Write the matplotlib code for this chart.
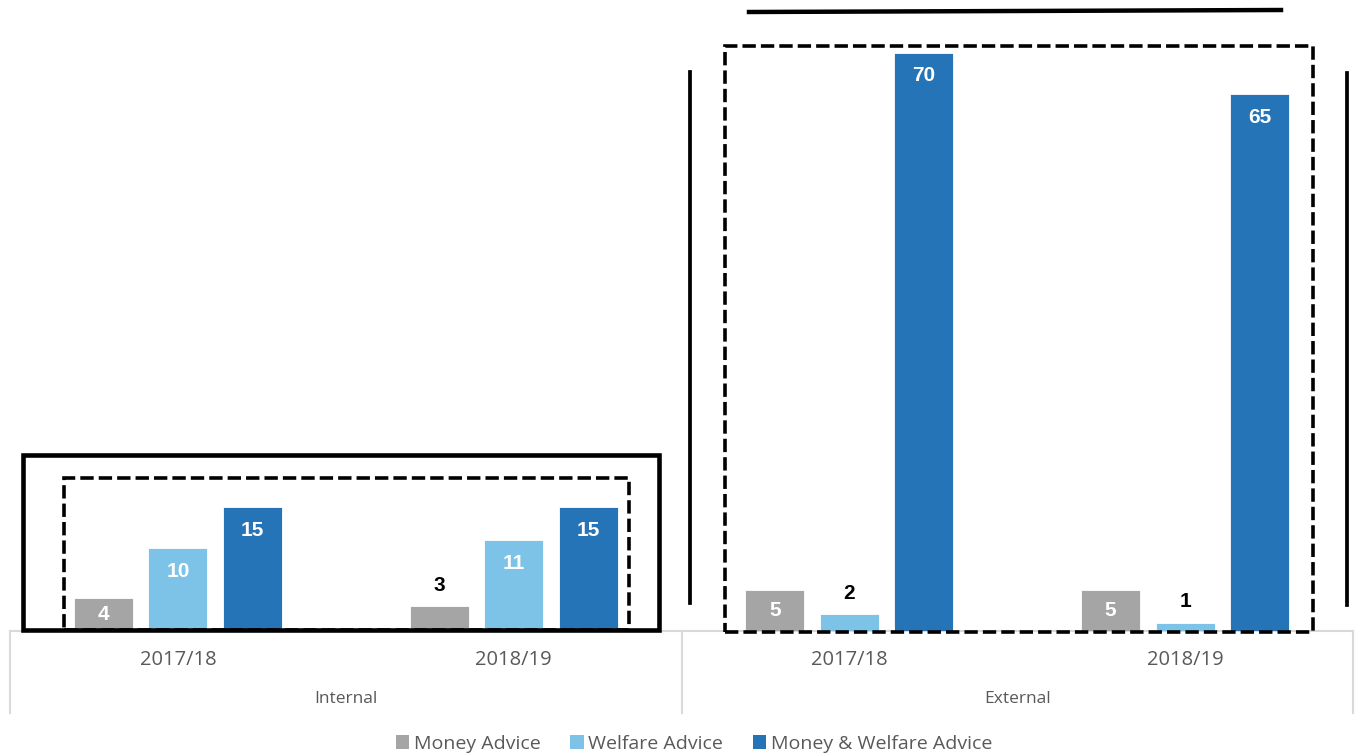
#!/usr/bin/env python3

import matplotlib
matplotlib.use("Agg")
import matplotlib.pyplot as plt
import numpy as np
from matplotlib.patches import Rectangle, Patch
from matplotlib.lines import Line2D

W, H = 1355, 753

groups = ["Internal", "External"]
years = ["2017/18", "2018/19", "2017/18", "2018/19"]
series = ["Money Advice", "Welfare Advice", "Money & Welfare Advice"]
money_advice = [4, 3, 5, 5]
welfare_advice = [10, 11, 2, 1]
money_welfare_advice = [15, 15, 70, 65]
colors = ["#A5A5A5", "#7CC3E7", "#2574B7"]

TEXT_GREY = "#595959"
AXIS_GREY = "#D9D9D9"
PX_PER_UNIT = 8.26
BASE_Y = 631
LABEL_FONT = ["Liberation Sans Narrow", "Liberation Sans"]


def px(x, y):
    # pixel position (from top-left) to figure fraction
    return x / W, 1 - y / H


fig = plt.figure(figsize=(W / 100, H / 100), dpi=100)
fig.patch.set_facecolor("white")
ax = fig.add_axes([10 / W, (H - BASE_Y) / H, 1343 / W, BASE_Y / H])
ax.set_xlim(-0.5, 3.5)
ax.set_ylim(0, BASE_Y / PX_PER_UNIT)
ax.axis("off")

x = np.arange(len(years))
width = 0.176
offsets = [-0.222, 0, 0.222]
label_pad = 23 / PX_PER_UNIT
above_pad = 21 / PX_PER_UNIT

for vals, off, col in zip([money_advice, welfare_advice, money_welfare_advice], offsets, colors):
    ax.bar(x + off, vals, width, color=col, edgecolor="white", linewidth=0.6, zorder=2)
    for xi, v in zip(x, vals):
        if v >= 4:
            ypos = max(v - label_pad, v / 2)
            ax.text(xi + off, ypos, str(v), ha="center", va="center", color="white",
                    fontsize=15, fontweight="bold", family=LABEL_FONT, zorder=3)
        else:
            ax.text(xi + off, v + above_pad, str(v), ha="center", va="center", color="black",
                    fontsize=15, fontweight="bold", family=LABEL_FONT, zorder=3)

# multi-level category axis
xt = ax.get_xaxis_transform()
ax.add_line(Line2D([-0.5, 3.5], [0, 0], color=AXIS_GREY, lw=1.5, transform=xt, clip_on=False, zorder=1))
axis_bottom = -(713 - BASE_Y) / BASE_Y
for xs in [-0.5, 1.5, 3.5]:
    ax.add_line(Line2D([xs, xs], [0, axis_bottom], color=AXIS_GREY, lw=1.5, transform=xt, clip_on=False))
for xi, yr in zip(x, years):
    ax.text(xi, -(660 - BASE_Y) / BASE_Y, yr, transform=xt, ha="center", va="center",
            fontsize=14.5, color=TEXT_GREY, family="Open Sans")
for gi, g in enumerate(groups):
    ax.text(gi * 2 + 0.5, -(699 - BASE_Y) / BASE_Y, g, transform=xt, ha="center", va="center",
            fontsize=12.5, color=TEXT_GREY, family="Open Sans")

# annotation shapes drawn over the chart
dash = (0, (3.7, 1.4))


def add_rect(x0, y0, x1, y1, **kw):
    fx0, fy1 = px(x0, y0)
    fx1, fy0 = px(x1, y1)
    fig.add_artist(Rectangle((fx0, fy0), fx1 - fx0, fy1 - fy0, transform=fig.transFigure,
                             fill=False, edgecolor="black", **kw))


def add_line(x0, y0, x1, y1, **kw):
    a, b = px(x0, y0)
    c, d = px(x1, y1)
    fig.add_artist(Line2D([a, c], [b, d], transform=fig.transFigure, color="black", **kw))


add_rect(23, 455, 659, 630, lw=3.3)
add_rect(64, 478, 629, 630, lw=2.6, linestyle=dash)
add_rect(725, 46, 1313, 632, lw=2.6, linestyle=dash)
add_line(690, 72, 690, 603, lw=2.7)
add_line(1347, 73, 1347, 605, lw=2.7)
add_line(749, 12, 1281, 10, lw=3.2)

handles = [Patch(facecolor=c, edgecolor="none") for c in colors]
fig.legend(handles, series, loc="center", bbox_to_anchor=px(694, 744), ncol=3, frameon=False,
           handlelength=0.7, handleheight=0.7, handletextpad=0.25, columnspacing=1.5,
           prop={"family": "Open Sans", "size": 14}, labelcolor=TEXT_GREY)

fig.savefig("out.png", dpi=100)
